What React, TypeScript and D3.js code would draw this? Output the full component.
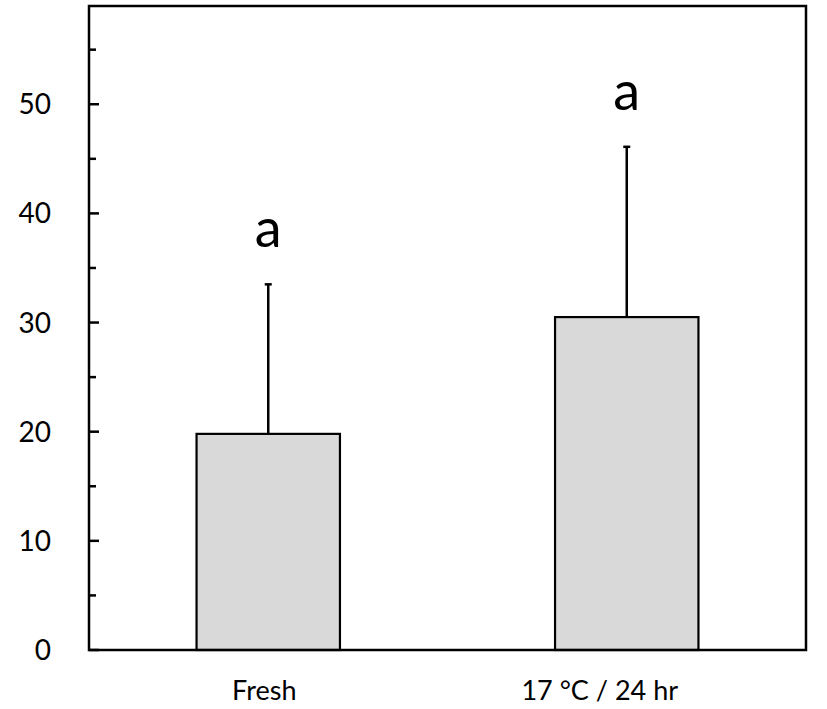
import React from "react";
import * as d3 from "d3";

const categories = ["Fresh", "17 °C / 24 hr"];
const means = [19.8, 30.5];
const errors = [13.7, 15.6];
const letters = ["a", "a"];
const yTicks = [0, 10, 20, 30, 40, 50];
const yMinorTicks = [5, 15, 25, 35, 45, 55];

const W = 827;
const H = 709;
const m = { left: 89, right: 21, top: 6, bottom: 59 };
const FONT = "Lato, 'Open Sans', sans-serif";
const labelShift = [-4, -27];

export default function App() {
  const x = d3
    .scaleBand<string>()
    .domain(categories)
    .range([m.left, W - m.right])
    .padding(0);
  const y = d3.scaleLinear().domain([0, 59]).range([H - m.bottom, m.top]);
  const bw = x.bandwidth() * 0.4;
  const cap = 3.5;

  return (
    <svg width={W} height={H} style={{ position: "absolute", left: 0, top: 0 }}>
      <rect x={0} y={0} width={W} height={H} fill="#fff" />
      {categories.map((c, i) => {
        const cx = x(c)! + x.bandwidth() / 2;
        const top = y(means[i] + errors[i]);
        return (
          <g key={c}>
            <line x1={cx} x2={cx} y1={y(means[i])} y2={top} stroke="#000" strokeWidth={2.5} />
            <line x1={cx - cap} x2={cx + cap} y1={top} y2={top} stroke="#000" strokeWidth={2.5} />
            <rect
              x={cx - bw / 2}
              y={y(means[i])}
              width={bw}
              height={y(0) - y(means[i])}
              fill="#d9d9d9"
              stroke="#000"
              strokeWidth={2.2}
            />
            <text
              x={cx}
              y={top - 37}
              textAnchor="middle"
              fontFamily={FONT}
              fontSize={54}
              fill="#000"
            >
              {letters[i]}
            </text>
            <text
              x={cx}
              dx={labelShift[i]}
              y={700}
              textAnchor="middle"
              fontFamily={FONT}
              fontSize={27}
              fill="#000"
            >
              {c}
            </text>
          </g>
        );
      })}
      {yTicks.map((t) => (
        <g key={t}>
          <line x1={m.left} x2={m.left + 10} y1={y(t)} y2={y(t)} stroke="#000" strokeWidth={2.5} />
          <text
            x={51}
            y={y(t)}
            dy="0.36em"
            textAnchor="end"
            fontFamily={FONT}
            fontSize={28}
            fill="#000"
          >
            {t}
          </text>
        </g>
      ))}
      {yMinorTicks.map((t) => (
        <line key={t} x1={m.left} x2={m.left + 7} y1={y(t)} y2={y(t)} stroke="#000" strokeWidth={2.5} />
      ))}
      <rect
        x={m.left}
        y={m.top}
        width={W - m.left - m.right}
        height={H - m.top - m.bottom}
        fill="none"
        stroke="#000"
        strokeWidth={2.5}
      />
    </svg>
  );
}
